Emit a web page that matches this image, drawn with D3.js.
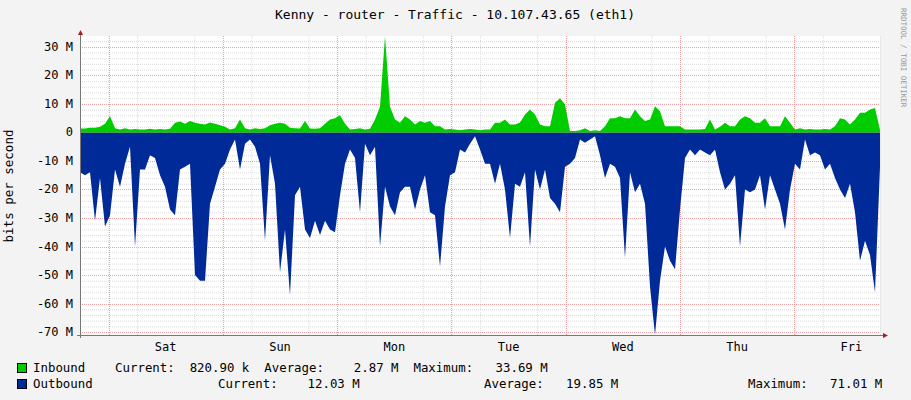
<!DOCTYPE html>
<html><head><meta charset="utf-8">
<script src="https://cdn.jsdelivr.net/npm/d3@7"></script>
<style>body{margin:0;background:#F3F3F3}svg{display:block}text{font-family:"DejaVu Sans Mono",monospace}</style>
</head><body><svg id="c" width="911" height="400"></svg>
<script>
const title = "Kenny - router - Traffic - 10.107.43.65 (eth1)";
const dayLabels = ["Sat","Sun","Mon","Tue","Wed","Thu","Fri"];
const yTicks = [30,20,10,0,-10,-20,-30,-40,-50,-60,-70];
// samples every ~1.05 h, Fri 18:00 -> Fri 18:00 (hours from start)
const inbound = [1.4,1.4,1.6,1.6,2,3,5.7,1.5,1,1.5,1,1.2,1,1,1.3,1,1.2,1,1.3,3.4,3.8,3,4,3.4,3,2.8,3.5,3,2.5,2,1,1.5,4.5,1.5,1,1.5,1.2,1.5,2.5,3,3.4,3,
1.6,1.5,1.4,4,1.4,1.3,1.5,3,4.5,5,6,3,1,1.2,1.5,1,1.3,4.5,9,33.69,9,4.5,3.4,5.7,4.5,2.8,4,3.4,4,2.2,2.2,1,1.2,1,0.8,1,1.2,1,0.8,1,
1,3.4,3.4,4.5,2.8,2.8,3.5,6.3,8,6.3,2.8,2.2,2.2,10.4,12,9.8,0.5,0.5,0.8,1.5,0.5,0.8,0.5,2.2,5,5,5.7,5,5,8,5.7,4,4.5,9.2,7.4,2.2,2.2,2.2,2.2,1,
1,1,1,1.2,4.5,1,2,3.4,2.2,2.2,4.5,5.7,5,3.4,3.4,5,2.2,2.2,2.2,5.7,3.4,1,1.5,1,1.2,1,1,1.2,1,2.2,5,4.5,2.8,4.5,6.9,6.9,8,8.6,0.82];
const outbound = [14,15,14,31,16,33,29,13,19,11,5,40,13,13,8,9,15,19,27,29,13,12,11,50,52,52,25,19,13,11,6,2.5,13,4,2.5,5,11,38,8,18,49,34,
57,22,19,34,37,31,36,31,34,35,22,11,6,9,28,4,8,5,40,19,26,29,21,19,19,27,20,15,28,29,47,26,15,14,6,7,4,1.3,6,11,
11,18,11,20,37,18,19,14,40,13,20,13,23,25,28,12,11,9,2.5,3.6,2.5,1.3,8,16,11,12,16,44,14,21,18,25,54,71.01,52,40,45,48,27,9,
6,8,6,7,8,6,14,20,18,15,40,20,21,20,15,27,15,20,25,34,20,11,13,2.5,8,7,8,13,11,16,20,23,18,28,45,38,43,56,12.03];

const svg = d3.select("#c");
const L=80, R=880, T=36, B=335;
const x = d3.scaleLinear().domain([0,168]).range([L,R]);
const y = d3.scaleLinear().domain([-71.01,33.8]).range([B,T]);
const hr = i => i*168/(inbound.length-1);

svg.append("rect").attr("x",L).attr("y",T).attr("width",R-L).attr("height",B-T).attr("fill","#fff");
const g = svg.append("g");
// minor grid
for(let v=-70; v<=32; v+=2){ if(v%10) g.append("line").attr("x1",L).attr("x2",R).attr("y1",y(v)+.5).attr("y2",y(v)+.5).attr("stroke","#ddd").attr("stroke-dasharray","1,1"); }
for(let h=0; h<=168; h+=6){ if((h+6)%24) g.append("line").attr("x1",x(h)+.5).attr("x2",x(h)+.5).attr("y1",T).attr("y2",B).attr("stroke","#ddd").attr("stroke-dasharray","1,1"); }
// major grid
yTicks.forEach(v=>g.append("line").attr("x1",L).attr("x2",R).attr("y1",Math.round(y(v))+.5).attr("y2",Math.round(y(v))+.5).attr("stroke","#f3a0a0").attr("stroke-dasharray","1,1"));
for(let d=0; d<7; d++){ const h=6+24*d; g.append("line").attr("x1",Math.round(x(h))+.5).attr("x2",Math.round(x(h))+.5).attr("y1",T).attr("y2",B).attr("stroke","#f3a0a0").attr("stroke-dasharray","1,1"); }

svg.append("path").datum(outbound).attr("fill","#002A97")
 .attr("d",d3.area().x((d,i)=>x(hr(i))).y0(y(0)).y1(d=>y(-d)));
svg.append("path").datum(inbound).attr("fill","#00CC00")
 .attr("d",d3.area().x((d,i)=>x(hr(i))).y0(y(0)).y1(d=>y(d)));

// axes
svg.append("line").attr("x1",L+.5).attr("x2",L+.5).attr("y1",T-4).attr("y2",B+3).attr("stroke","#777");
svg.append("line").attr("x1",L-3).attr("x2",R+4).attr("y1",B+.5).attr("y2",B+.5).attr("stroke","#777");
svg.append("path").attr("d",`M${L-2},${T-1}L${L+3},${T-1}L${L+.5},${T-6}Z`).attr("fill","#a02020");
svg.append("path").attr("d",`M${R+3},${B-2}L${R+3},${B+3}L${R+8},${B+.5}Z`).attr("fill","#a02020");

yTicks.forEach(v=>svg.append("text").attr("x",73).attr("y",y(v)+4).attr("text-anchor","end").attr("font-size",12).attr("fill","#000").text(v===0?"0":v+" M"));
dayLabels.forEach((t,d)=>svg.append("text").attr("x",x(18+24*d)).attr("y",351).attr("text-anchor","middle").attr("font-size",12).text(t));

svg.append("text").attr("x",455).attr("y",19).attr("text-anchor","middle").attr("font-size",13).text(title);
svg.append("text").attr("transform","translate(13,186) rotate(-90)").attr("text-anchor","middle").attr("font-size",12.5).text("bits per second");
svg.append("text").attr("transform","translate(901,8) rotate(90)").attr("font-size",7.5).attr("fill","#999").text("RRDTOOL / TOBI OETIKER");

// legend
svg.append("rect").attr("x",17.5).attr("y",363.5).attr("width",9).attr("height",9).attr("fill","#00CC00").attr("stroke","#000");
svg.append("rect").attr("x",17.5).attr("y",379.5).attr("width",9).attr("height",9).attr("fill","#002A97").attr("stroke","#000");
const lt=(xx,yy,t)=>svg.append("text").attr("x",xx).attr("y",yy).attr("font-size",12.4).attr("xml:space","preserve").style("white-space","pre").text(t);
lt(33,372,"Inbound    Current:  820.90 k  Average:    2.87 M  Maximum:   33.69 M");
lt(33,388,"Outbound");
lt(218,388,"Current:    12.03 M");
lt(484,388,"Average:   19.85 M");
lt(748,388,"Maximum:   71.01 M");
</script></body></html>
